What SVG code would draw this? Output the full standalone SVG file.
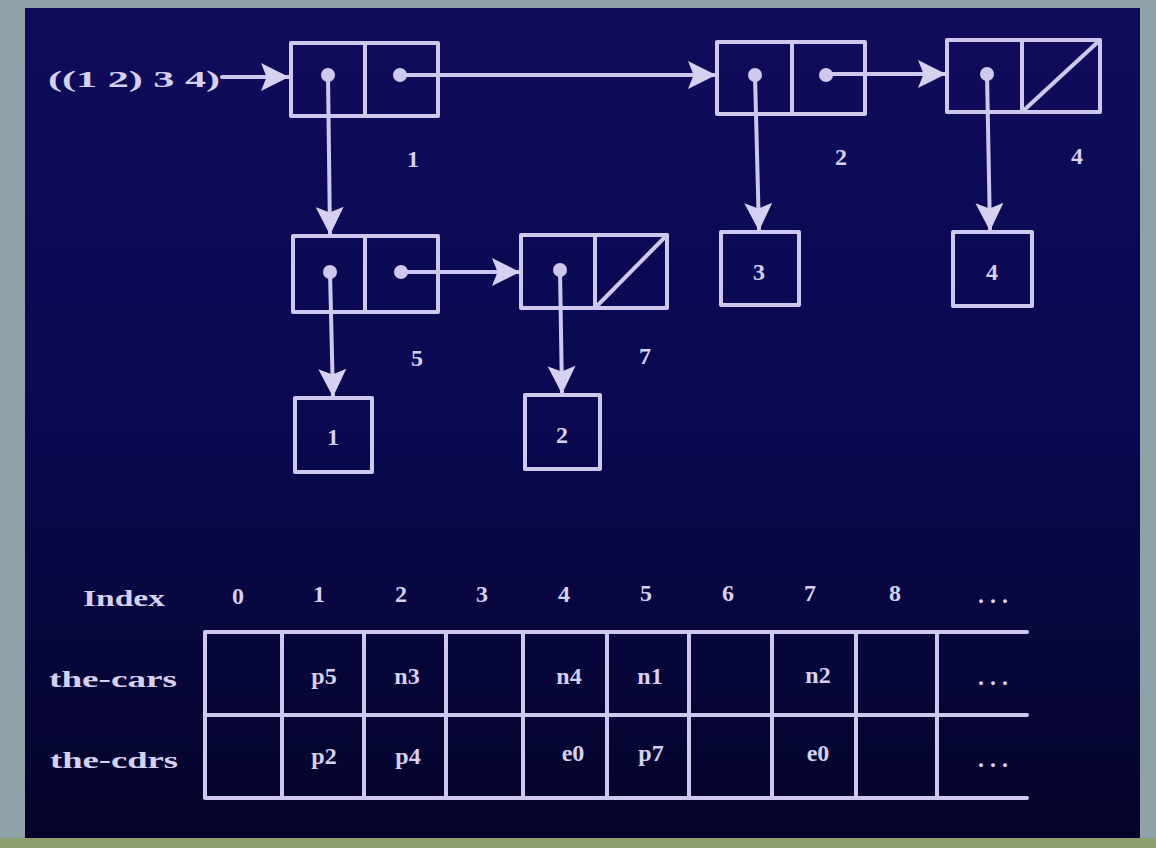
<svg xmlns="http://www.w3.org/2000/svg" width="1156" height="848" viewBox="0 0 1156 848">
<style>
.ln{stroke:#cfc8ee;stroke-width:4;fill:none;stroke-linejoin:round;stroke-linecap:round}
.dot{fill:#cfc8ee}
.t{font-family:"Liberation Serif",serif;font-weight:bold;fill:#d6d0f2;font-size:24px;text-anchor:middle}
.s{font-size:24px}
.d{letter-spacing:6px}
</style>
<defs>
<linearGradient id="bg" x1="0" y1="0" x2="0" y2="1">
<stop offset="0" stop-color="#100c5c"/>
<stop offset="0.5" stop-color="#0a0850"/>
<stop offset="1" stop-color="#04042a"/>
</linearGradient>
<marker id="ah" viewBox="0 0 10 10" refX="10" refY="5" markerWidth="30" markerHeight="28" markerUnits="userSpaceOnUse" orient="auto">
<path d="M0,0 L10,5 L0,10 L2,5 Z" fill="#d6d0f2"/>
</marker>
</defs>
<rect x="0" y="0" width="1156" height="848" fill="#8fa2a8"/>
<rect x="0" y="838" width="1156" height="10" fill="#8fa070"/>
<rect x="25" y="8" width="1115" height="830" fill="url(#bg)"/>

<g id="connectors">
<line class="ln" x1="222" y1="77" x2="289" y2="77" marker-end="url(#ah)"/>
<line class="ln" x1="400" y1="75" x2="716" y2="75" marker-end="url(#ah)"/>
<line class="ln" x1="826" y1="74" x2="946" y2="74" marker-end="url(#ah)"/>
<line class="ln" x1="328" y1="75" x2="330" y2="235" marker-end="url(#ah)"/>
<line class="ln" x1="755" y1="75" x2="759" y2="231" marker-end="url(#ah)"/>
<line class="ln" x1="987" y1="74" x2="990" y2="231" marker-end="url(#ah)"/>
<line class="ln" x1="401" y1="272" x2="520" y2="272" marker-end="url(#ah)"/>
<line class="ln" x1="330" y1="272" x2="333" y2="397" marker-end="url(#ah)"/>
<line class="ln" x1="560" y1="270" x2="562" y2="394" marker-end="url(#ah)"/>
</g>

<g id="label-list"><text class="t" x="134" y="87" textLength="172" lengthAdjust="spacingAndGlyphs">((1 2) 3 4)</text></g>

<g id="pair1">
<rect class="ln" x="291" y="43" width="147" height="73"/>
<line class="ln" x1="365" y1="43" x2="365" y2="116"/>
<circle class="dot" cx="328" cy="75" r="7"/><circle class="dot" cx="400" cy="75" r="7"/>
<text class="t" x="413" y="167">1</text>
</g>
<g id="pair2">
<rect class="ln" x="717" y="42" width="148" height="72"/>
<line class="ln" x1="792" y1="42" x2="792" y2="114"/>
<circle class="dot" cx="755" cy="75" r="7"/><circle class="dot" cx="826" cy="75" r="7"/>
<text class="t" x="841" y="165">2</text>
</g>
<g id="pair4">
<rect class="ln" x="947" y="40" width="153" height="72"/>
<line class="ln" x1="1022" y1="40" x2="1022" y2="112"/>
<line class="ln" x1="1022" y1="112" x2="1100" y2="40"/>
<circle class="dot" cx="987" cy="74" r="7"/>
<text class="t" x="1077" y="164">4</text>
</g>
<g id="pair5">
<rect class="ln" x="293" y="236" width="145" height="76"/>
<line class="ln" x1="365" y1="236" x2="365" y2="312"/>
<circle class="dot" cx="330" cy="272" r="7"/><circle class="dot" cx="401" cy="272" r="7"/>
<text class="t" x="417" y="366">5</text>
</g>
<g id="pair7">
<rect class="ln" x="521" y="235" width="146" height="73"/>
<line class="ln" x1="595" y1="235" x2="595" y2="308"/>
<line class="ln" x1="595" y1="308" x2="667" y2="235"/>
<circle class="dot" cx="560" cy="270" r="7"/>
<text class="t" x="645" y="364">7</text>
</g>
<g id="atom1"><rect class="ln" x="295" y="398" width="77" height="74"/><text class="t" x="333" y="445">1</text></g>
<g id="atom2"><rect class="ln" x="525" y="395" width="75" height="74"/><text class="t" x="562" y="443">2</text></g>
<g id="atom3"><rect class="ln" x="721" y="232" width="78" height="73"/><text class="t" x="759" y="280">3</text></g>
<g id="atom4"><rect class="ln" x="953" y="232" width="79" height="74"/><text class="t" x="992" y="280">4</text></g>

<g id="table">
<text class="t s" x="124" y="606" textLength="82" lengthAdjust="spacingAndGlyphs">Index</text>
<text class="t s" x="238" y="604">0</text>
<text class="t s" x="319" y="602">1</text>
<text class="t s" x="401" y="602">2</text>
<text class="t s" x="482" y="602">3</text>
<text class="t s" x="564" y="602">4</text>
<text class="t s" x="646" y="601">5</text>
<text class="t s" x="728" y="601">6</text>
<text class="t s" x="810" y="601">7</text>
<text class="t s" x="895" y="601">8</text>
<text class="t s d" x="996" y="603">...</text>
<text class="t s" x="113" y="687" textLength="128" lengthAdjust="spacingAndGlyphs">the-cars</text>
<text class="t s" x="114" y="768" textLength="128" lengthAdjust="spacingAndGlyphs">the-cdrs</text>
<path class="ln" d="M1027,632 H205 V798 H1027 M205,715 H1027"/>
<path class="ln" d="M282,632 V798 M364,632 V798 M446,632 V798 M523,632 V798 M607,632 V798 M689,632 V798 M772,632 V798 M856,632 V798 M937,632 V798"/>
<text class="t s" x="324" y="684">p5</text>
<text class="t s" x="407" y="684">n3</text>
<text class="t s" x="569" y="684">n4</text>
<text class="t s" x="650" y="684">n1</text>
<text class="t s" x="818" y="683">n2</text>
<text class="t s d" x="996" y="685">...</text>
<text class="t s" x="324" y="764">p2</text>
<text class="t s" x="408" y="764">p4</text>
<text class="t s" x="573" y="761">e0</text>
<text class="t s" x="651" y="761">p7</text>
<text class="t s" x="818" y="761">e0</text>
<text class="t s d" x="996" y="767">...</text>
</g>
</svg>
